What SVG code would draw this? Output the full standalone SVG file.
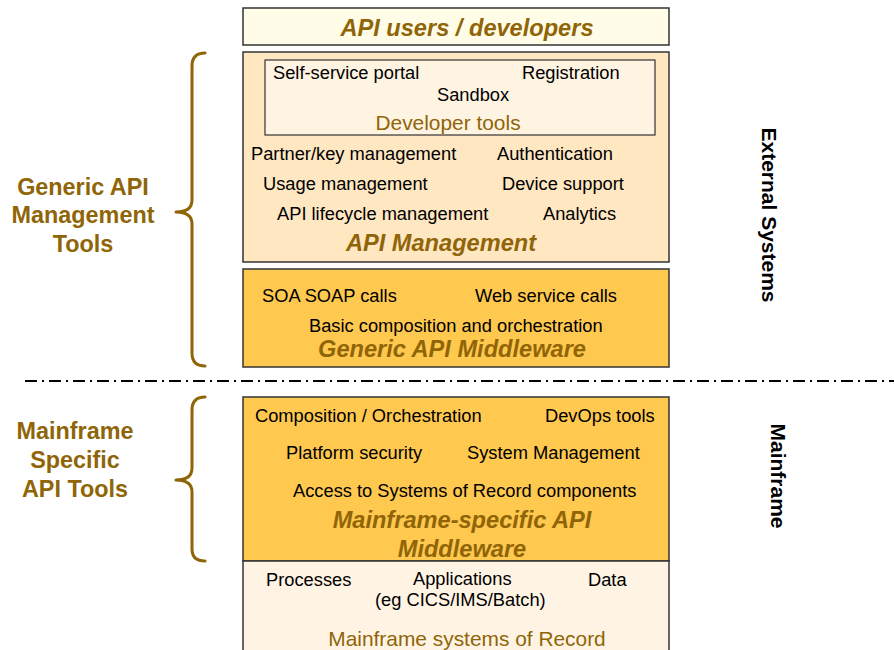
<svg xmlns="http://www.w3.org/2000/svg" width="894" height="650" viewBox="0 0 894 650">
<style>
.box{stroke:#333;stroke-width:1.5}
.t{font-family:"Liberation Sans",Arial,sans-serif;font-size:18.3px;fill:#000}
.h{font-family:"Liberation Sans",Arial,sans-serif;font-size:23.6px;font-weight:bold;font-style:italic;fill:#8F6508;text-anchor:middle}
.b{font-family:"Liberation Sans",Arial,sans-serif;font-size:20.9px;fill:#8F6508;text-anchor:middle}
.l{font-family:"Liberation Sans",Arial,sans-serif;font-size:23.4px;font-weight:bold;fill:#8F6508;text-anchor:middle}
.v{font-family:"Liberation Sans",Arial,sans-serif;font-size:21px;font-weight:bold;fill:#000;text-anchor:middle}
.brace{fill:none;stroke:#8F6508;stroke-width:3;stroke-linecap:round;stroke-linejoin:round}
</style>
<rect width="894" height="650" fill="#fff"/>
<g id="api-users">
<rect class="box" x="243" y="8" width="426" height="37" fill="#FFFDE7"/>
<text class="h" x="467" y="36">API users / developers</text>
</g>
<g id="api-management">
<rect class="box" x="243" y="52" width="426" height="210" fill="#FFE7C2"/>
<g id="developer-tools">
<rect x="265" y="60" width="390" height="75" fill="#FFF3E2" stroke="#333" stroke-width="1.2"/>
<text class="t" x="273" y="79">Self-service portal</text>
<text class="t" x="522" y="79">Registration</text>
<text class="t" x="437" y="101">Sandbox</text>
<text class="b" x="448" y="130">Developer tools</text>
</g>
<text class="t" x="251" y="160">Partner/key management</text>
<text class="t" x="497" y="160">Authentication</text>
<text class="t" x="263" y="190">Usage management</text>
<text class="t" x="502" y="190">Device support</text>
<text class="t" x="277" y="220">API lifecycle management</text>
<text class="t" x="543" y="220">Analytics</text>
<text class="h" x="441" y="251">API Management</text>
</g>
<g id="generic-middleware">
<rect class="box" x="243" y="269" width="426" height="98" fill="#FFC84E"/>
<text class="t" x="262" y="302">SOA SOAP calls</text>
<text class="t" x="475" y="302">Web service calls</text>
<text class="t" x="309" y="332">Basic composition and orchestration</text>
<text class="h" x="452" y="357">Generic API Middleware</text>
</g>
<g id="mainframe-middleware">
<rect class="box" x="243" y="397" width="426" height="164" fill="#FFC84E"/>
<text class="t" x="255" y="422">Composition / Orchestration</text>
<text class="t" x="545" y="422">DevOps tools</text>
<text class="t" x="286" y="459">Platform security</text>
<text class="t" x="467" y="459">System Management</text>
<text class="t" x="293" y="497">Access to Systems of Record components</text>
<text class="h" x="462" y="528">Mainframe-specific API</text>
<text class="h" x="462" y="557">Middleware</text>
</g>
<g id="systems-of-record">
<rect class="box" x="243" y="561" width="426" height="95" fill="#FFF4E4"/>
<text class="t" x="266" y="586">Processes</text>
<text class="t" x="413" y="585">Applications</text>
<text class="t" x="375" y="606">(eg CICS/IMS/Batch)</text>
<text class="t" x="588" y="586">Data</text>
<text class="b" x="467" y="646">Mainframe systems of Record</text>
</g>
<g id="generic-tools-label">
<path class="brace" d="M205,53 Q192,53 192,66 L192,200 Q192,212 176,212 Q192,212 192,224 L192,353 Q192,366 205,366"/>
<text class="l" x="83" y="195">Generic API</text>
<text class="l" x="83" y="223">Management</text>
<text class="l" x="83" y="252">Tools</text>
</g>
<g id="mainframe-tools-label">
<path class="brace" d="M205,397 Q192,397 192,410 L192,468 Q192,480 176,480 Q192,480 192,492 L192,549 Q192,561 205,561"/>
<text class="l" x="75" y="439">Mainframe</text>
<text class="l" x="75" y="468">Specific</text>
<text class="l" x="75" y="497">API Tools</text>
</g>
<g id="connectors">
<line x1="25" y1="381" x2="894" y2="381" stroke="#000" stroke-width="2" stroke-dasharray="12 5 2 5"/>
</g>
<g id="external-systems">
<text class="v" transform="translate(762,215) rotate(90)">External Systems</text>
</g>
<g id="mainframe">
<text class="v" transform="translate(771,476) rotate(90)">Mainframe</text>
</g>
</svg>
